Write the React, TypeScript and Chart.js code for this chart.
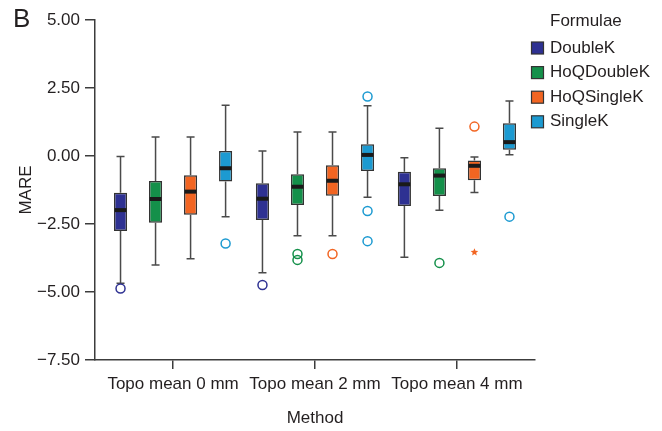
import React, { useEffect, useRef } from 'react';
import { Chart, registerables } from 'chart.js';

Chart.register(...registerables);

const categories = ['Topo mean 0 mm', 'Topo mean 2 mm', 'Topo mean 4 mm'];
const seriesNames = ['DoubleK', 'HoQDoubleK', 'HoQSingleK', 'SingleK'];
const seriesColors = ['#2e3192', '#14904a', '#f26522', '#1c9ad1'];
const yTicks = [-7.5, -5, -2.5, 0, 2.5, 5];

// five-number summaries per series, one value per category
const doubleKMin = [-4.68, -4.29, -3.72];
const doubleKQ1 = [-2.76, -2.35, -1.84];
const doubleKMedian = [-1.99, -1.57, -1.04];
const doubleKQ3 = [-1.35, -1.0, -0.58];
const doubleKMax = [-0.02, 0.18, -0.06];
const doubleKOutliers = [[-4.87], [-4.74], []];

const hoqDoubleKMin = [-4.01, -2.93, -1.99];
const hoqDoubleKQ1 = [-2.45, -1.8, -1.47];
const hoqDoubleKMedian = [-1.58, -1.13, -0.72];
const hoqDoubleKQ3 = [-0.92, -0.67, -0.45];
const hoqDoubleKMax = [0.7, 0.88, 1.02];
const hoqDoubleKOutliers = [[], [-3.6, -3.82], [-3.93]];

const hoqSingleKMin = [-3.78, -2.93, -1.34];
const hoqSingleKQ1 = [-2.16, -1.46, -0.89];
const hoqSingleKMedian = [-1.31, -0.91, -0.36];
const hoqSingleKQ3 = [-0.71, -0.34, -0.17];
const hoqSingleKMax = [0.7, 0.88, -0.04];
const hoqSingleKOutliers = [[], [-3.6], [1.08]];
const hoqSingleKExtremes = [[], [], [-3.54]];

const singleKMin = [-2.23, -1.52, 0.05];
const singleKQ1 = [-0.94, -0.55, 0.23];
const singleKMedian = [-0.45, 0.04, 0.51];
const singleKQ3 = [0.18, 0.43, 1.2];
const singleKMax = [1.87, 1.85, 2.02];
const singleKOutliers = [[-3.22], [2.19, -2.02, -3.13], [-2.23]];

const mins = [doubleKMin, hoqDoubleKMin, hoqSingleKMin, singleKMin];
const q1s = [doubleKQ1, hoqDoubleKQ1, hoqSingleKQ1, singleKQ1];
const medians = [doubleKMedian, hoqDoubleKMedian, hoqSingleKMedian, singleKMedian];
const q3s = [doubleKQ3, hoqDoubleKQ3, hoqSingleKQ3, singleKQ3];
const maxs = [doubleKMax, hoqDoubleKMax, hoqSingleKMax, singleKMax];
const outliers = [doubleKOutliers, hoqDoubleKOutliers, hoqSingleKOutliers, singleKOutliers];
const extremes = [[[], [], []], [[], [], []], hoqSingleKExtremes, [[], [], []]];

const FONT = "'Liberation Sans', Arial, Helvetica, sans-serif";
const TEXT = '#231f20';
const AXIS = '#3c3c3c';

function fmt(v: number) {
  const s = Math.abs(v).toFixed(2);
  return v < -1e-9 ? '\u2212' + s : s;
}

const boxPlotPlugin = {
  id: 'boxPlotExtras',
  afterDatasetsDraw(chart: any) {
    const { ctx } = chart;
    const yScale = chart.scales.y;
    ctx.save();
    chart.data.datasets.forEach((ds: any, s: number) => {
      const meta = chart.getDatasetMeta(s);
      meta.data.forEach((bar: any, i: number) => {
        const x = bar.x;
        const w = bar.width;
        const yMin = yScale.getPixelForValue(mins[s][i]);
        const yQ1 = yScale.getPixelForValue(q1s[s][i]);
        const yMed = yScale.getPixelForValue(medians[s][i]);
        const yQ3 = yScale.getPixelForValue(q3s[s][i]);
        const yMax = yScale.getPixelForValue(maxs[s][i]);
        const cap = 4;
        ctx.strokeStyle = '#4a4a4a';
        ctx.lineWidth = 1.5;
        ctx.beginPath();
        ctx.moveTo(x, yQ3);
        ctx.lineTo(x, yMax);
        ctx.moveTo(x - cap, yMax);
        ctx.lineTo(x + cap, yMax);
        ctx.moveTo(x, yQ1);
        ctx.lineTo(x, yMin);
        ctx.moveTo(x - cap, yMin);
        ctx.lineTo(x + cap, yMin);
        ctx.stroke();
        // median
        ctx.strokeStyle = '#1a1a1a';
        ctx.lineWidth = 4;
        ctx.beginPath();
        ctx.moveTo(x - w / 2 + 0.75, yMed);
        ctx.lineTo(x + w / 2 - 0.75, yMed);
        ctx.stroke();
        // outliers
        ctx.strokeStyle = seriesColors[s];
        ctx.lineWidth = 1.5;
        outliers[s][i].forEach((v: number) => {
          const py = yScale.getPixelForValue(v);
          ctx.beginPath();
          ctx.arc(x, py, 4.5, 0, Math.PI * 2);
          ctx.stroke();
        });
        // extremes (star)
        ctx.fillStyle = seriesColors[s];
        extremes[s][i].forEach((v: number) => {
          const py = yScale.getPixelForValue(v);
          ctx.beginPath();
          for (let k = 0; k < 10; k++) {
            const r = k % 2 === 0 ? 4 : 1.8;
            const a = -Math.PI / 2 + (k * Math.PI) / 5;
            const px = x + r * Math.cos(a);
            const pyy = py + r * Math.sin(a);
            if (k === 0) ctx.moveTo(px, pyy);
            else ctx.lineTo(px, pyy);
          }
          ctx.closePath();
          ctx.fill();
        });
      });
    });
    ctx.restore();
  },
  afterDraw(chart: any) {
    const { ctx } = chart;
    ctx.save();
    // panel letter
    ctx.fillStyle = TEXT;
    ctx.font = `26px ${FONT}`;
    ctx.textAlign = 'left';
    ctx.textBaseline = 'alphabetic';
    ctx.fillText('B', 13, 27);
    // legend
    ctx.font = `17px ${FONT}`;
    ctx.textBaseline = 'middle';
    ctx.fillText('Formulae', 550, 21);
    chart.data.datasets.forEach((ds: any, s: number) => {
      const cy = 48 + s * 24.6;
      ctx.fillStyle = ds.backgroundColor;
      ctx.fillRect(531.5, cy - 6, 12, 12);
      ctx.strokeStyle = '#333333';
      ctx.lineWidth = 1.2;
      ctx.strokeRect(531.5, cy - 6, 12, 12);
      ctx.fillStyle = TEXT;
      ctx.fillText(ds.label, 550, cy);
    });
    ctx.restore();
  },
};

export default function App() {
  const ref = useRef<HTMLCanvasElement | null>(null);
  useEffect(() => {
    if (!ref.current) return;
    Chart.defaults.font.family = FONT;
    Chart.defaults.color = TEXT;
    const chart = new Chart(ref.current, {
      type: 'bar',
      data: {
        datasets: seriesNames.map((name, s) => ({
          label: name,
          data: categories.map((_, i) => ({ x: i, y: [q1s[s][i], q3s[s][i]] })),
          backgroundColor: seriesColors[s],
          borderColor: '#333333',
          borderWidth: 1.5,
          borderSkipped: false,
          categoryPercentage: 0.987,
          barPercentage: 0.375,
        })),
      } as any,
      options: {
        animation: false,
        responsive: false,
        devicePixelRatio: 1,
        layout: { padding: { top: 20, right: 127, left: 0, bottom: 0 } },
        plugins: { legend: { display: false }, tooltip: { enabled: false } },
        scales: {
          x: {
            type: 'linear',
            offset: false,
            min: -0.55,
            max: 2.55,
            afterBuildTicks: (scale: any) => {
              scale.ticks = categories.map((_, i) => ({ value: i }));
            },
            afterFit: (scale: any) => {
              scale.height = 71;
            },
            ticks: {
              font: { size: 17 },
              color: TEXT,
              padding: 5,
              maxRotation: 0,
              autoSkip: false,
              callback: (v: any) => categories[Math.round(Number(v))] ?? '',
            },
            grid: { display: true, offset: false, drawOnChartArea: false, drawTicks: true, tickLength: 9, color: AXIS, lineWidth: 1.5 },
            border: { display: true, color: AXIS, width: 1.5 },
            title: { display: true, text: 'Method', font: { size: 17 }, color: TEXT, padding: { top: 0, bottom: 2 } },
          },
          y: {
            type: 'linear',
            min: -7.5,
            max: 5,
            afterBuildTicks: (scale: any) => {
              scale.ticks = yTicks.map((v) => ({ value: v }));
            },
            afterFit: (scale: any) => {
              scale.width = 95;
            },
            ticks: {
              font: { size: 17 },
              color: TEXT,
              padding: 5,
              callback: (v: any) => fmt(Number(v)),
            },
            grid: { display: true, drawOnChartArea: false, drawTicks: true, tickLength: 10, color: AXIS, lineWidth: 1.5 },
            border: { display: true, color: AXIS, width: 1.5 },
            title: { display: true, text: 'MARE', font: { size: 17 }, color: TEXT, padding: { top: 16, bottom: 0 } },
          },
        },
      } as any,
      plugins: [boxPlotPlugin],
    });
    return () => chart.destroy();
  }, []);
  return (
    <div style={{ position: 'absolute', left: 0, top: 0, width: 662, height: 431, background: '#ffffff' }}>
      <canvas ref={ref} width={662} height={431} style={{ display: 'block', width: 662, height: 431 }} />
    </div>
  );
}
